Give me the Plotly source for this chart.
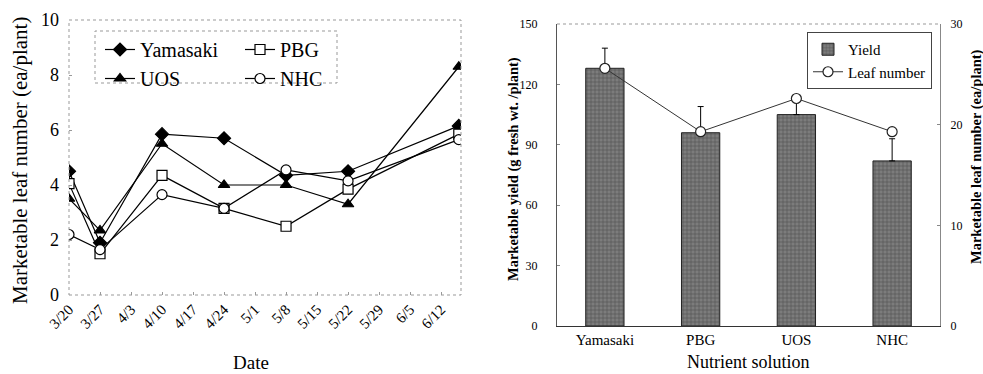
import plotly.graph_objects as go

W, H = 983, 374

# ---- Left chart data ----
dates = ["2000-03-20", "2000-03-27", "2000-04-10", "2000-04-24", "2000-05-08", "2000-05-22", "2000-06-16"]
yamasaki = [4.5, 1.9, 5.85, 5.7, 4.35, 4.5, 6.15]
pbg = [4.05, 1.5, 4.35, 3.15, 2.5, 3.85, 5.85]
uos = [3.5, 2.35, 5.5, 4.0, 4.0, 3.3, 8.3]
nhc = [2.2, 1.65, 3.65, 3.15, 4.55, 4.15, 5.65]

# ---- Right chart data ----
solutions = ["Yamasaki", "PBG", "UOS", "NHC"]
yield_vals = [128, 96, 105, 82]
yield_err = [10, 13, 8, 11]
leaf_vals = [25.6, 19.3, 22.6, 19.3]

serif = "Liberation Serif, Times New Roman, serif"

def px(x):
    return x / W

def py(y):
    return 1 - y / H

fig = go.Figure()

mk = dict(size=10, line=dict(color="black", width=1.2))
fig.add_trace(go.Scatter(x=dates, y=yamasaki, name="Yamasaki", mode="lines+markers",
                         line=dict(color="black", width=1.2),
                         marker=dict(symbol="diamond", color="black", **mk),
                         xaxis="x", yaxis="y", legend="legend"))
fig.add_trace(go.Scatter(x=dates, y=uos, name="UOS", mode="lines+markers",
                         line=dict(color="black", width=1.2),
                         marker=dict(symbol="triangle-up", color="black", **mk),
                         xaxis="x", yaxis="y", legend="legend"))
fig.add_trace(go.Scatter(x=dates, y=pbg, name="PBG", mode="lines+markers",
                         line=dict(color="black", width=1.2),
                         marker=dict(symbol="square", color="white", **mk),
                         xaxis="x", yaxis="y", legend="legend2"))
fig.add_trace(go.Scatter(x=dates, y=nhc, name="NHC", mode="lines+markers",
                         line=dict(color="black", width=1.2),
                         marker=dict(symbol="circle", color="white", **mk),
                         xaxis="x", yaxis="y", legend="legend2"))

fig.add_trace(go.Bar(x=solutions, y=yield_vals, name="Yield", width=0.4,
                     marker=dict(color="#6e6e6e",
                                 line=dict(color="#222", width=1),
                                 pattern=dict(shape="+", fgcolor="#2a2a2a", bgcolor="#7c7c7c",
                                              size=4, solidity=0.3)),
                     error_y=dict(type="data", array=yield_err, arrayminus=[0] * 4,
                                  color="black", thickness=1, width=3),
                     xaxis="x2", yaxis="y2", legend="legend3"))
fig.add_trace(go.Scatter(x=solutions, y=leaf_vals, name="Leaf number", mode="lines+markers",
                         line=dict(color="#333", width=1),
                         marker=dict(symbol="circle", color="white", size=10,
                                     line=dict(color="#222", width=1.2)),
                         xaxis="x2", yaxis="y3", legend="legend3"))

tickfont_l = dict(family=serif, size=18, color="black")
tickfont_r = dict(family=serif, size=12, color="black")

fig.update_layout(
    width=W, height=H,
    margin=dict(l=0, r=0, t=0, b=0),
    paper_bgcolor="white", plot_bgcolor="white",
    font=dict(family=serif, color="black"),
    xaxis=dict(domain=[px(69), px(461)], type="date",
               range=["2000-03-20", "2000-06-16 12:00"],
               tick0="2000-03-20", dtick=7 * 86400000, tickformat="%-m/%-d",
               tickangle=-45, tickfont=dict(family=serif, size=15, color="black"),
               showgrid=False, zeroline=False, showline=False,
               ticks="inside", ticklen=3, tickcolor="#999", automargin=False,
               ticklabelstandoff=2, anchor="y"),
    yaxis=dict(domain=[py(295), py(20)], range=[0, 10], dtick=2,
               tickfont=tickfont_l, showgrid=False, zeroline=False, showline=False,
               ticks="inside", ticklen=3, tickcolor="#999", automargin=False,
               ticklabelstandoff=9, anchor="x"),
    xaxis2=dict(domain=[px(557), px(940)], type="category",
                tickfont=dict(family=serif, size=15, color="black"),
                showgrid=False, zeroline=False, showline=True, linecolor="#333", linewidth=1,
                ticks="", ticklen=0, automargin=False, ticklabelstandoff=0, anchor="y2"),
    yaxis2=dict(domain=[py(326), py(24)], range=[0, 150], dtick=30,
                tickfont=tickfont_r, showgrid=False, zeroline=False,
                showline=True, linecolor="#555", linewidth=1,
                ticks="inside", ticklen=3, tickcolor="#888", automargin=False,
                ticklabelstandoff=16, anchor="x2"),
    yaxis3=dict(overlaying="y2", side="right", range=[0, 30], dtick=10,
                tickfont=tickfont_r, showgrid=False, zeroline=False,
                showline=True, linecolor="#888", linewidth=1,
                ticks="inside", ticklen=3, tickcolor="#888", automargin=False,
                ticklabelstandoff=7, anchor="x2"),
    legend=dict(x=px(100), y=py(30), xanchor="left", yanchor="top",
                bgcolor="rgba(0,0,0,0)", borderwidth=0,
                font=dict(family=serif, size=20, color="black"),
                tracegroupgap=0, itemwidth=30),
    legend2=dict(x=px(240), y=py(30), xanchor="left", yanchor="top",
                 bgcolor="rgba(0,0,0,0)", borderwidth=0,
                 font=dict(family=serif, size=20, color="black"),
                 tracegroupgap=0, itemwidth=30),
    legend3=dict(x=px(807), y=py(32), xanchor="left", yanchor="top",
                 bgcolor="white", bordercolor="#444", borderwidth=1,
                 font=dict(family=serif, size=15, color="black"),
                 tracegroupgap=0, itemwidth=30),
    showlegend=True,
)

# frames
fig.add_shape(type="rect", xref="x domain", yref="y domain", x0=0, x1=1, y0=0, y1=1,
              line=dict(color="#999", width=1, dash="dot"))
fig.add_shape(type="rect", xref="paper", yref="paper", x0=px(95), x1=px(337),
              y0=py(83), y1=py(31), line=dict(color="#999", width=1, dash="dot"))
fig.add_shape(type="line", xref="x2 domain", yref="y2 domain", x0=0, x1=1, y0=1, y1=1,
              line=dict(color="#999", width=1, dash="dot"))

# axis titles
ann = dict(xref="paper", yref="paper", showarrow=False, xanchor="center", yanchor="middle")
fig.add_annotation(text="Marketable leaf number (ea/plant)", x=px(20), y=py(161),
                   textangle=-90, font=dict(family=serif, size=21, color="black"), **ann)
fig.add_annotation(text="Date", x=px(251), y=py(362),
                   font=dict(family=serif, size=19, color="black"), **ann)
fig.add_annotation(text="<b>Marketable yield (g fresh wt. /plant)</b>", x=px(513), y=py(169),
                   textangle=-90, font=dict(family=serif, size=14.5, color="black"), **ann)
fig.add_annotation(text="<b>Marketable leaf number (ea/plant)</b>", x=px(976), y=py(157),
                   textangle=-90, font=dict(family=serif, size=14.5, color="black"), **ann)
fig.add_annotation(text="Nutrient solution", x=px(748), y=py(362),
                   font=dict(family=serif, size=18, color="black"), **ann)

fig.write_html("out.html", config={"displayModeBar": False},
               post_script="document.body.style.margin='0';document.body.style.overflow='hidden';")
